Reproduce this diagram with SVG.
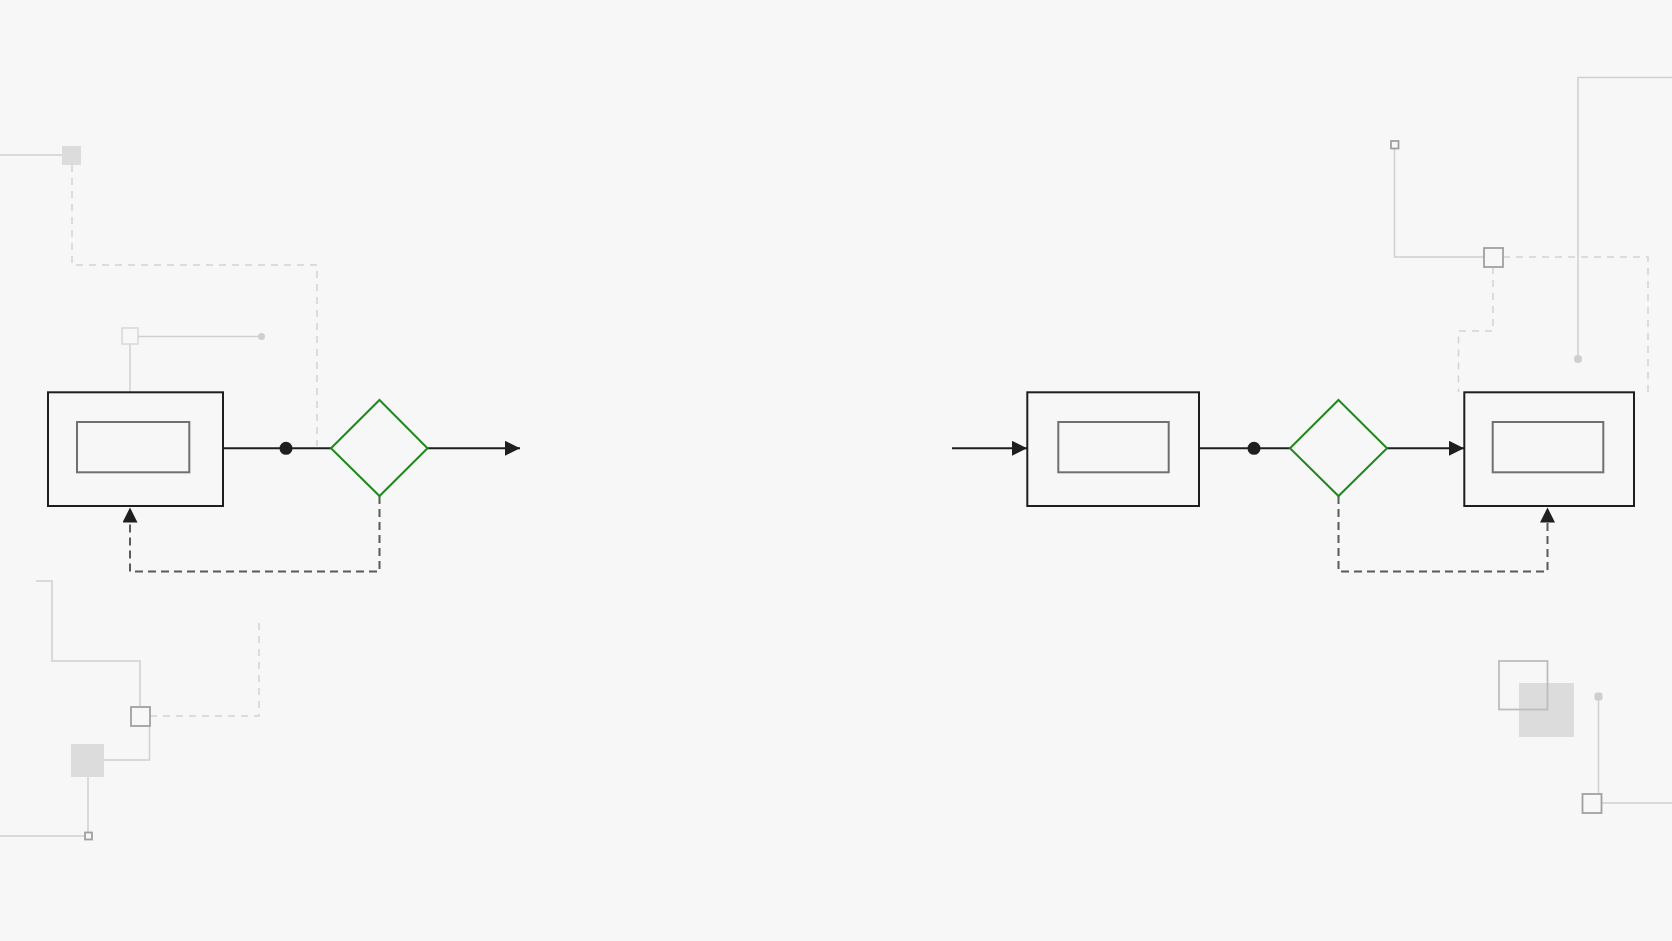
<svg xmlns="http://www.w3.org/2000/svg" width="1672" height="941" viewBox="0 0 1672 941">
<defs>
<style>
.bg{fill:#f7f7f7}
.deco{fill:none;stroke:#d0d0d0;stroke-width:1.5}
.decod{fill:none;stroke:#d3d3d3;stroke-width:1.5;stroke-dasharray:7 6}
.decobox{fill:#f7f7f7;stroke:#a0a0a0;stroke-width:1.8}
.decofill{fill:#dcdcdc}
.decodot{fill:#cfcfcf}
.outer{fill:none;stroke:#1f1f1f;stroke-width:2}
.inner{fill:none;stroke:#707070;stroke-width:2}
.dia{fill:none;stroke:#1e8a1e;stroke-width:2}
.flow{fill:none;stroke:#1f1f1f;stroke-width:2}
.fb{fill:none;stroke:#5a5a5a;stroke-width:2;stroke-dasharray:8 5}
</style>
<marker id="arr" markerWidth="16" markerHeight="16" refX="15" refY="7.5" orient="auto" markerUnits="userSpaceOnUse">
<path d="M0,0 L15,7.5 L0,15 Z" fill="#1f1f1f"/>
</marker>
</defs>
<rect class="bg" x="0" y="0" width="1672" height="941"/>

<g id="decoration">
<!-- top-left -->
<path class="deco" d="M0,155 H62"/>
<rect class="decofill" x="62" y="146" width="19" height="19"/>
<path class="decod" d="M72,165 V265 H317 V446"/>
<path class="deco" d="M130,344 V392"/>
<rect x="122" y="328" width="16" height="16" fill="#f7f7f7" stroke="#d8d8d8" stroke-width="1.5"/>
<path class="deco" d="M138,336.5 H261"/>
<circle class="decodot" cx="261.5" cy="336.5" r="3.5"/>
<!-- bottom-left -->
<path class="deco" d="M36,581 H52 V661 H140 V707"/>
<path class="decod" d="M150,716 H259 V621"/>
<path class="deco" d="M149.5,725 V760 H104"/>
<rect class="decobox" x="131" y="707" width="19" height="19"/>
<rect class="decofill" x="71" y="744" width="33" height="33"/>
<path class="deco" d="M88,777 V832 M0,836 H85"/>
<rect class="decobox" x="85" y="832.5" width="7" height="7" stroke-width="1.5"/>
<!-- top-right -->
<path class="deco" d="M1394.5,148 V257 H1484"/>
<rect class="decobox" x="1391" y="141" width="7.5" height="7.5" stroke-width="1.5"/>
<path class="decod" d="M1503,257 H1648 V392"/>
<path class="decod" d="M1493,267 V331 H1458.5 V392"/>
<rect class="decobox" x="1484" y="248" width="19" height="19"/>
<path class="deco" d="M1672,77.5 H1578 V359"/>
<circle class="decodot" cx="1578" cy="359" r="4"/>
<!-- bottom-right -->
<rect class="decofill" x="1519" y="683" width="55" height="54"/>
<rect x="1499" y="661" width="48.5" height="48.5" fill="none" stroke="#bdbdbd" stroke-width="1.8"/>
<path class="deco" d="M1598.5,697 V794 M1601,803 H1672"/>
<rect class="decodot" x="1594.5" y="692.5" width="8" height="8" rx="2.5"/>
<rect class="decobox" x="1582.5" y="794" width="19" height="19"/>
</g>

<g id="connectors">
<path class="flow" d="M223,448.3 H331"/>
<circle cx="286" cy="448.3" r="6.5" fill="#1f1f1f"/>
<path class="flow" d="M427.5,448.3 H520" marker-end="url(#arr)"/>
<path class="fb" d="M379.5,496 V571.5 H130 V507.5" marker-end="url(#arr)"/>
<path class="flow" d="M952,448.3 H1027" marker-end="url(#arr)"/>
<path class="flow" d="M1199,448.3 H1290"/>
<circle cx="1254" cy="448.3" r="6.5" fill="#1f1f1f"/>
<path class="flow" d="M1387,448.3 H1464" marker-end="url(#arr)"/>
<path class="fb" d="M1338.5,496 V571.5 H1547.5 V507.5" marker-end="url(#arr)"/>
</g>

<g id="node-left-box">
<rect class="outer" x="48" y="392.3" width="175" height="113.7"/>
<rect class="inner" x="77" y="422" width="112.3" height="50.3"/>
</g>
<g id="node-left-decision">
<path class="dia" d="M379.5,400 L427.5,448.3 L379.5,496 L331,448.3 Z"/>
</g>
<g id="node-mid-box">
<rect class="outer" x="1027.3" y="392.3" width="171.7" height="113.7"/>
<rect class="inner" x="1058.3" y="422" width="110.4" height="50.3"/>
</g>
<g id="node-right-decision">
<path class="dia" d="M1338.5,400 L1387,448.3 L1338.5,496 L1290,448.3 Z"/>
</g>
<g id="node-right-box">
<rect class="outer" x="1464.3" y="392.3" width="169.7" height="113.7"/>
<rect class="inner" x="1492.7" y="422" width="110.6" height="50.3"/>
</g>
</svg>
